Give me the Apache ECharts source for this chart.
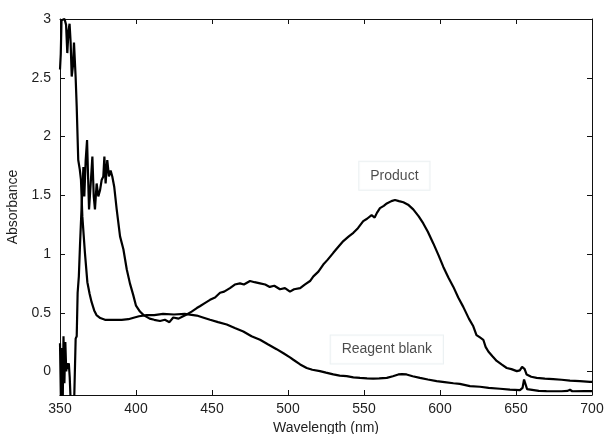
<!DOCTYPE html>
<html>
<head>
<meta charset="utf-8">
<script src="https://cdn.jsdelivr.net/npm/echarts@6/dist/echarts.min.js"></script>
<style>
html,body{margin:0;padding:0;background:#fff;}
#chart{width:604px;height:434px;}
</style>
</head>
<body>
<div id="chart"></div>
<script>
// Wavelength (nm) and absorbance values
const productWavelength = [350,350.6,351.2,351.8,352.3,352.9,353.5,354.1,354.6,355.2,355.8,356.4,357,357.8,358.6,359.4,360.3,361,361.6,362.4,363.2,364.3,365.4,366,366.9,367.8,368.4,369.1,370.2,371.3,372.2,373,374.1,375.2,376.3,377.4,378.5,379.2,380,381.1,382.2,383.3,384.4,385.7,387.3,389.5,391.7,393.9,396,398.2,400,402.6,405,409,412,415.8,419,422,424.5,428,431,434,436.6,440,442,445,448.7,452,455.3,458,461.8,465,468.4,471,475,478,481.6,485,488,491,494.7,498,501.3,504,508,511,514.5,516.7,520,523.2,526,529.8,533,536.4,540,543,546,549.5,552,555,557,558.5,560.5,563,565,568,570.4,573,575.9,579,582.4,586,589,592,595.6,599,602.2,605.5,608.8,612,615.3,619,621.9,624,626.3,628.5,630,631.8,634.5,637.3,640.5,643.9,647,650.5,652.5,654,654.8,655.7,657,660,663.6,669,674.5,680,685.5,692,698.7,700];
const productAbsorbance = [0.24,-0.25,0.2,-0.25,0.3,-0.1,0.25,0.0,0.07,0.02,0.07,-0.05,-0.25,-0.3,-0.3,-0.21,0.28,0.3,0.67,0.81,1.09,1.43,1.74,1.49,1.8,1.97,1.69,1.38,1.6,1.83,1.49,1.38,1.6,1.49,1.54,1.63,1.66,1.83,1.6,1.8,1.66,1.71,1.66,1.57,1.38,1.15,1.04,0.87,0.75,0.65,0.56,0.51,0.48,0.45,0.44,0.43,0.44,0.42,0.46,0.45,0.47,0.49,0.51,0.54,0.555,0.58,0.61,0.63,0.67,0.68,0.71,0.74,0.75,0.74,0.77,0.76,0.75,0.74,0.72,0.73,0.70,0.71,0.68,0.70,0.71,0.74,0.77,0.81,0.85,0.91,0.95,1.01,1.06,1.11,1.15,1.18,1.22,1.28,1.30,1.33,1.31,1.35,1.39,1.41,1.43,1.45,1.46,1.45,1.44,1.42,1.38,1.32,1.26,1.19,1.09,0.99,0.89,0.80,0.72,0.63,0.55,0.45,0.385,0.31,0.29,0.27,0.21,0.17,0.13,0.09,0.06,0.03,0.02,0.003,0.01,0.04,0.045,0.02,-0.026,-0.045,-0.054,-0.06,-0.065,-0.07,-0.077,-0.082,-0.088,-0.088];

const blankWavelength = [350,350.5,351,352,353,354,354.8,355.6,356.3,357,357.7,358.5,359.2,360.3,361,362,363,363.8,364.7,366.4,368,369.5,370.8,372.5,374,376.5,379.6,385,390.6,395,399,402,407,412,417.8,425,432,440,444,448.7,454,459.7,465,470.6,476,481.6,487,492.5,497,501.3,503.5,508,512.3,516,521,525,529.8,534,538.6,543,547.4,552,556,560,565,569,572.6,575,578,582,586.8,592,597.8,603,608.8,613,619.7,626.3,632,639.5,646,652.6,654.3,655.3,656.3,657.3,658.5,665,670,680,684,685.5,687,695,700];
const blankAbsorbance = [2.57,2.7,2.99,3.0,3.0,2.95,2.71,2.9,2.96,2.8,2.51,2.6,2.8,2.5,2.25,1.8,1.72,1.63,1.32,1.01,0.76,0.66,0.59,0.52,0.48,0.455,0.44,0.44,0.44,0.445,0.46,0.47,0.48,0.48,0.49,0.485,0.49,0.476,0.46,0.44,0.42,0.40,0.37,0.34,0.30,0.27,0.23,0.19,0.155,0.12,0.10,0.06,0.03,0.015,0.003,-0.01,-0.025,-0.035,-0.04,-0.05,-0.054,-0.058,-0.06,-0.058,-0.054,-0.04,-0.025,-0.022,-0.025,-0.04,-0.054,-0.068,-0.082,-0.09,-0.10,-0.105,-0.125,-0.13,-0.14,-0.147,-0.155,-0.159,-0.14,-0.068,-0.07,-0.15,-0.165,-0.165,-0.167,-0.168,-0.165,-0.155,-0.168,-0.166,-0.167];

const xTicks = [350,400,450,500,550,600,650,700];
const yTicks = [0,0.5,1,1.5,2,2.5,3];
const labelNames = ['Product','Reagent blank'];
const labelWavelength = [570,565];
const labelAbsorbance = [1.665,0.187];

const zip = (a,b) => a.map((v,i)=>[v,b[i]]);

const font = 'Liberation Sans, Arial, sans-serif';
const axisColor = '#111';
const textColor = '#1e1e1e';

const chart = echarts.init(document.getElementById('chart'), null, {renderer:'canvas'});
const commonLine = {show:true, onZero:false, lineStyle:{color:axisColor, width:1}};
const tick = {show:true, inside:true, length:5, lineStyle:{color:axisColor}};
chart.setOption({
  animation:false,
  backgroundColor:'#fff',
  grid:{left:60, right:12, top:19, bottom:39, containLabel:false, outerBoundsMode:'none'},
  xAxis:[{
    type:'value', min:350, max:700, interval:50, position:'bottom',
    axisLine:commonLine, axisTick:tick,
    axisLabel:{color:textColor, fontFamily:font, fontSize:14, margin:7},
    splitLine:{show:false},
    name:'Wavelength (nm)', nameLocation:'middle', nameGap:25,
    nameTextStyle:{color:textColor, fontFamily:font, fontSize:14, verticalAlign:'top'}
  },{
    type:'value', min:350, max:700, interval:50, position:'top',
    axisLine:commonLine, axisTick:tick,
    axisLabel:{show:false}, splitLine:{show:false}
  }],
  yAxis:[{
    type:'value', min:-0.2, max:3, position:'left',
    axisLine:commonLine,
    axisTick:Object.assign({}, tick, {customValues:yTicks}),
    axisLabel:{color:textColor, fontFamily:font, fontSize:14, margin:9, customValues:yTicks},
    splitLine:{show:false},
    name:'Absorbance', nameLocation:'middle', nameGap:30, nameRotate:90,
    nameTextStyle:{color:textColor, fontFamily:font, fontSize:14}
  },{
    type:'value', min:-0.2, max:3, position:'right',
    axisLine:commonLine,
    axisTick:Object.assign({}, tick, {customValues:yTicks}),
    axisLabel:{show:false, customValues:yTicks}, splitLine:{show:false}
  }],
  series:[{
    name:'Product', type:'line', xAxisIndex:0, yAxisIndex:0,
    data:zip(productWavelength, productAbsorbance),
    showSymbol:false, symbol:'none', clip:true,
    lineStyle:{color:'#000', width:2.2}
  },{
    name:'Reagent blank', type:'line', xAxisIndex:0, yAxisIndex:0,
    data:zip(blankWavelength, blankAbsorbance),
    showSymbol:false, symbol:'none', clip:true,
    lineStyle:{color:'#000', width:2.2}
  },{
    name:'labels', type:'scatter', xAxisIndex:0, yAxisIndex:0,
    data:labelNames.map((n,i)=>({value:[labelWavelength[i], labelAbsorbance[i]], name:n})),
    symbol:'circle', symbolSize:1, itemStyle:{color:'rgba(0,0,0,0)'},
    label:{
      show:true, position:'inside', formatter:p=>p.name,
      color:textColor, fontFamily:font, fontSize:14,
      backgroundColor:'#fff', borderColor:'#e6ecef', borderWidth:1, padding:[7,11]
    },
    silent:true, z:5
  }]
});
</script>
</body>
</html>
